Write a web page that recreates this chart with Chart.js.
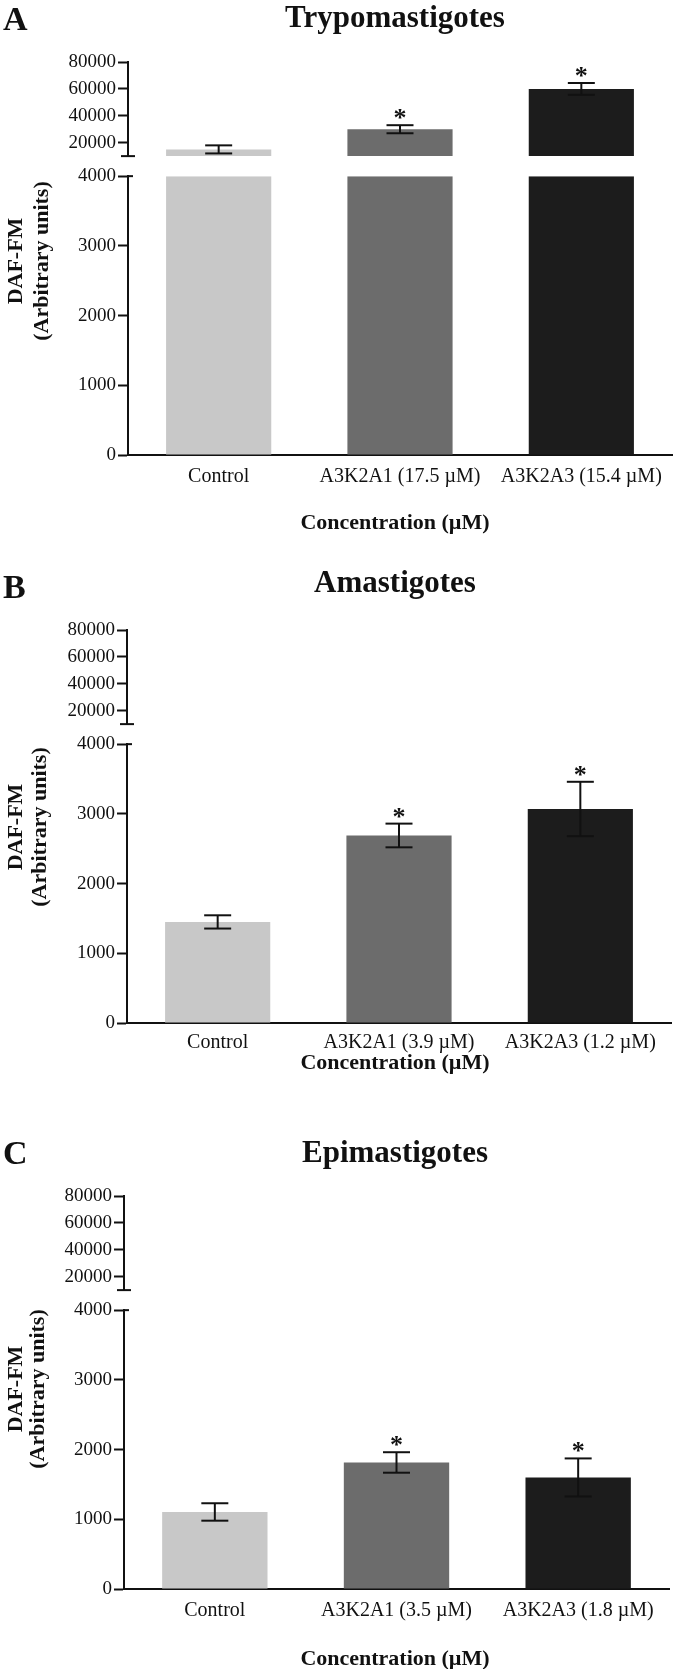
<!DOCTYPE html>
<html>
<head>
<meta charset="utf-8">
<script src="https://cdn.jsdelivr.net/npm/chart.js@4.4.1/dist/chart.umd.min.js"></script>
<style>
  body { margin: 0; background: #fff; }
  #wrap { position: relative; width: 673px; height: 1669px; }
  canvas { position: absolute; left: 0; }
</style>
</head>
<body>
<div id="wrap">
  <canvas id="chartA" width="673" height="568" style="top:0px"></canvas>
  <canvas id="chartB" width="673" height="566" style="top:568px"></canvas>
  <canvas id="chartC" width="673" height="535" style="top:1134px"></canvas>
</div>
<script>
// ---- data ----
const labelsA = ['Control', 'A3K2A1 (17.5 µM)', 'A3K2A3 (15.4 µM)'];
const meansA = [15000, 30000, 60000];
const errorsA = [3000, 3000, 4400];
const starsA = ['', '*', '*'];

const labelsB = ['Control', 'A3K2A1 (3.9 µM)', 'A3K2A3 (1.2 µM)'];
const meansB = [1450, 2690, 3070];
const errorsB = [95, 170, 390];
const starsB = ['', '*', '*'];

const labelsC = ['Control', 'A3K2A1 (3.5 µM)', 'A3K2A3 (1.8 µM)'];
const meansC = [1105, 1815, 1600];
const errorsC = [125, 147, 273];
const starsC = ['', '*', '*'];

const upperTicks = [20000, 40000, 60000, 80000];
const lowerTicks = [0, 1000, 2000, 3000, 4000];
const upperMin = 10000, upperMax = 80000;
const lowerMax = 4000;

const barColors = ['rgb(200,200,200)', 'rgb(108,108,108)', 'rgb(28,28,28)'];
const serif = '"Liberation Serif", "Times New Roman", serif';
const ink = '#111';

// draws the break marks, error bars, stars and the panel texts
const panelDeco = {
    id: 'panelDeco',
    afterDatasetsDraw(chart, args, o) {
        const ctx = chart.ctx;
        const left = chart.chartArea.left;
        const x = chart.scales.x, yT = chart.scales.yTop, yL = chart.scales.y;
        const line = (x1, y1, x2, y2) => { ctx.beginPath(); ctx.moveTo(x1, y1); ctx.lineTo(x2, y2); ctx.stroke(); };
        ctx.save();
        ctx.strokeStyle = ink;
        ctx.fillStyle = ink;
        ctx.lineWidth = 2;

        // axis break caps
        const yb = yT.getPixelForValue(upperMin);
        line(left - 7, yb, left + 7, yb);
        const yc = yL.getPixelForValue(lowerMax);
        line(left, yc, left + 5, yc);

        // error bars + significance
        o.means.forEach((m, i) => {
            const sc = m > lowerMax ? yT : yL;
            const cx = x.getPixelForValue(i);
            const top = sc.getPixelForValue(m + o.errors[i]);
            const bot = sc.getPixelForValue(m - o.errors[i]);
            line(cx, top, cx, bot);
            line(cx - 13.5, top, cx + 13.5, top);
            line(cx - 13.5, bot, cx + 13.5, bot);
            if (o.stars[i]) {
                ctx.font = 'bold 26px ' + serif;
                ctx.textAlign = 'center';
                ctx.textBaseline = 'alphabetic';
                ctx.fillText(o.stars[i], cx, top + 1);
            }
        });

        // panel letter and title
        ctx.textBaseline = 'alphabetic';
        ctx.textAlign = 'left';
        ctx.font = 'bold 34px ' + serif;
        ctx.fillText(o.letter, 3, 30);
        ctx.textAlign = 'center';
        ctx.font = 'bold 31px ' + serif;
        ctx.fillText(o.title, 395, o.titleY);

        // x axis title
        ctx.font = 'bold 22px ' + serif;
        ctx.fillText('Concentration (µM)', 395, o.xTitleY);

        // y axis title (two lines, rotated)
        ctx.save();
        ctx.translate(22, o.yTitleY);
        ctx.rotate(-Math.PI / 2);
        ctx.fillText('DAF-FM', 0, 0);
        ctx.restore();
        ctx.save();
        ctx.translate(o.arbX, o.yTitleY);
        ctx.rotate(-Math.PI / 2);
        ctx.fillText('(Arbitrary units)', 0, 0);
        ctx.restore();

        ctx.restore();
    }
};

function makePanel(id, letter, title, labels, means, errors, stars, lay) {
    const canvas = document.getElementById(id);
    const H = canvas.height;
    const barOpts = { grouped: false, categoryPercentage: 1, barPercentage: 0.58, backgroundColor: barColors };
    const tickFont = { family: serif, size: 19 };
    const yGrid = { drawOnChartArea: false, drawTicks: true, tickLength: 10, tickWidth: 2, tickColor: ink };
    const yBorder = { color: ink, width: 2 };
    const fixWidth = s => { s.width = lay.left; };

    return new Chart(canvas, {
        type: 'bar',
        data: {
            labels: labels,
            datasets: [
                Object.assign({ data: means.map(v => Math.min(v, lowerMax)), yAxisID: 'y' }, barOpts),
                Object.assign({ data: means.map(v => v > upperMin ? v : null), yAxisID: 'yTop', base: upperMin }, barOpts)
            ]
        },
        options: {
            responsive: false,
            animation: false,
            layout: { padding: { top: 62, right: 673 - lay.right, left: 0, bottom: 0 } },
            plugins: {
                legend: { display: false },
                tooltip: { enabled: false },
                panelDeco: {
                    letter: letter, title: title, means: means, errors: errors, stars: stars,
                    titleY: lay.titleY, xTitleY: lay.xTitleY, yTitleY: lay.yTitleY, arbX: lay.arbX
                }
            },
            scales: {
                x: {
                    offset: true,
                    grid: { display: false, drawTicks: false },
                    border: { color: ink, width: 2 },
                    ticks: { color: ink, font: { family: serif, size: 20 }, padding: lay.labelPad, maxRotation: 0, autoSkip: false },
                    afterFit: s => { s.height = H - 455; }
                },
                yTop: {
                    type: 'linear', position: 'left', stack: 'v', stackWeight: 94, weight: 3,
                    min: upperMin, max: upperMax,
                    afterBuildTicks: s => { s.ticks = upperTicks.map(v => ({ value: v })); },
                    ticks: { color: ink, font: tickFont, padding: 2, autoSkip: false, callback: v => String(v) },
                    grid: yGrid, border: yBorder,
                    afterFit: fixWidth
                },
                yGap: {
                    type: 'linear', position: 'left', stack: 'v', stackWeight: 20, weight: 2,
                    min: 0, max: 1,
                    ticks: { display: false }, grid: { display: false }, border: { display: false },
                    afterFit: fixWidth
                },
                y: {
                    type: 'linear', position: 'left', stack: 'v', stackWeight: 278.5, weight: 1,
                    min: 0, max: lowerMax,
                    afterBuildTicks: s => { s.ticks = lowerTicks.map(v => ({ value: v })); },
                    ticks: { color: ink, font: tickFont, padding: 2, autoSkip: false, callback: v => String(v) },
                    grid: yGrid, border: yBorder,
                    afterFit: fixWidth
                }
            }
        },
        plugins: [panelDeco]
    });
}

makePanel('chartA', 'A', 'Trypomastigotes', labelsA, meansA, errorsA, starsA,
    { left: 128, right: 672, titleY: 27, xTitleY: 529, yTitleY: 261, arbX: 48, labelPad: 10 });
makePanel('chartB', 'B', 'Amastigotes', labelsB, meansB, errorsB, starsB,
    { left: 127, right: 671, titleY: 24, xTitleY: 501, yTitleY: 259, arbX: 46, labelPad: 8 });
makePanel('chartC', 'C', 'Epimastigotes', labelsC, meansC, errorsC, starsC,
    { left: 124, right: 669, titleY: 28, xTitleY: 531, yTitleY: 255, arbX: 44, labelPad: 10 });
</script>
</body>
</html>
